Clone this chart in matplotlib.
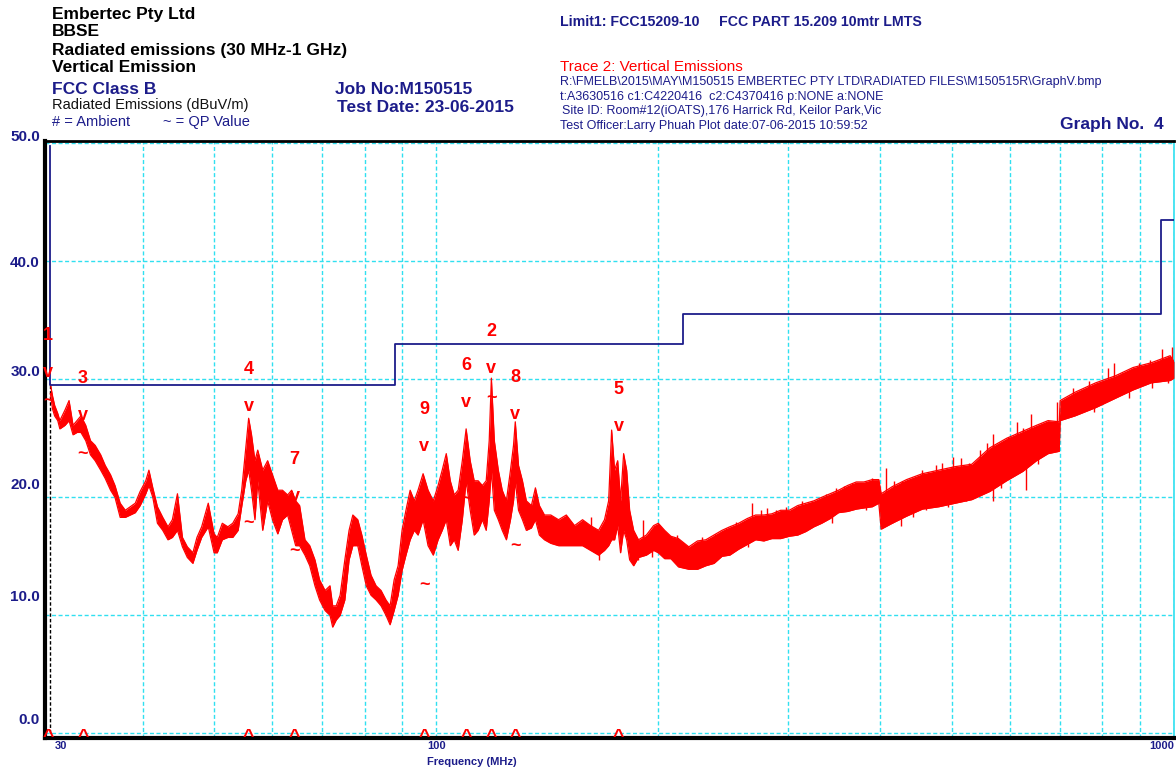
import matplotlib
matplotlib.use("Agg")
import matplotlib.pyplot as plt
import numpy as np

plt.rcParams['font.family'] = ['Liberation Sans', 'DejaVu Sans']

W, H = 1176, 771
NAVY = "#1c1c8a"
RED = "#ff0000"
CYAN = "#30e0f0"

# FCC 15.209 limit at 10 m (dBuV/m), step edges in MHz
limit_mhz = [30, 30, 88, 216, 960, 1000]
limit_db = [49.8, 29.5, 33.0, 35.5, 43.5, 43.5]

trace_mhz = [30.0, 30.2, 30.4, 30.7, 30.9, 31.4, 31.8, 32.2, 32.6, 33.0, 33.5, 34.0, 34.5, 35.1,
             35.6, 36.2, 36.7, 37.3, 37.9, 38.5, 39.1, 39.7, 40.4, 40.8, 41.3, 41.9, 42.6, 43.3,
             43.9, 44.6, 45.3, 46.0, 46.8, 47.4, 48.1, 49.1, 50.0, 50.5, 51.3, 52.2, 53.0, 53.9,
             54.5, 55.2, 55.7, 56.2, 56.8, 57.3, 58.2, 59.1, 60.0, 61.0, 61.9, 62.9, 63.7, 64.5,
             65.3, 66.4, 67.4, 68.5, 69.5, 70.7, 71.8, 72.4, 73.2, 74.1, 75.2, 76.2, 77.1, 78.3,
             79.3, 80.4, 81.6, 82.9, 84.2, 85.5, 86.6, 87.7, 88.8, 89.9, 91.0, 92.2, 93.4, 94.5,
             96.0, 97.5, 99.1, 100.6, 101.9, 103.2, 104.5, 105.8, 107.1, 108.5, 109.8, 111.2,
             112.6, 114.0, 115.5, 116.9, 118.0, 118.8, 119.9, 121.4, 122.9, 124.5, 126.1, 127.3,
             128.0, 129.3, 130.9, 132.5, 134.6, 136.3, 138.0, 140.2, 143.0, 146.5, 150.1, 154.0,
             157.9, 161.9, 166.0, 169.1, 171.3, 172.9, 174.5, 176.2, 177.8, 179.5, 181.2, 182.9,
             185.2, 188.0, 192.7, 197.1, 200, 204, 208, 213, 220, 226, 232, 238, 244, 250, 257,
             264, 271, 278, 285, 293, 301, 309, 317, 325, 333, 342, 351, 361, 371, 380, 390, 398,
             401, 415, 434, 456, 480, 505, 532, 563, 593, 624, 651, 675, 699, 701, 734, 783, 833,
             880, 931, 988, 1000]
trace_lo = [28.8, 27.5, 26.9, 26.5, 25.8, 26.1, 26.5, 25.3, 25.5, 25.5, 24.8, 23.6, 23.1, 22.3,
            21.6, 20.6, 20.0, 18.3, 18.3, 18.5, 18.7, 19.3, 20.3, 21.0, 20.0, 17.8, 17.2, 16.4,
            16.6, 17.2, 15.8, 14.9, 14.4, 15.5, 16.6, 17.5, 15.3, 15.3, 16.4, 16.6, 16.6, 17.2,
            19.2, 21.4, 22.3, 20.6, 18.1, 21.4, 17.2, 19.7, 18.1, 16.9, 18.1, 18.5, 17.2, 15.9,
            15.9, 15.1, 14.2, 12.5, 11.3, 10.4, 10.0, 9.0, 9.6, 10.0, 11.3, 14.7, 15.9, 15.9,
            14.2, 12.5, 11.7, 11.3, 10.8, 10.0, 9.2, 10.4, 11.7, 13.8, 15.1, 16.4, 17.2, 16.8,
            18.1, 15.9, 15.1, 16.4, 17.2, 18.1, 15.9, 16.4, 15.5, 18.1, 21.4, 18.9,
            16.8, 17.2, 18.1, 17.2, 19.7, 22.3, 18.9, 18.1, 17.2, 16.4, 18.1, 19.7,
            21.4, 18.9, 18.1, 17.2, 17.4, 18.1, 16.8, 16.4, 16.1, 15.9, 15.9, 15.9,
            15.9, 15.5, 15.1, 15.5, 15.9, 16.4, 16.4, 17.6, 15.3, 17.2, 16.4, 14.7,
            14.2, 14.9, 15.1, 15.5, 15.3, 14.8, 14.8, 14.1, 13.9, 13.9, 14.2, 14.4, 15.0, 15.1,
            15.6, 16.0, 16.4, 16.3, 16.5, 16.5, 16.7, 16.8, 17.1, 17.5, 17.8, 18.2, 18.7, 18.8,
            19.0, 19.1, 19.2, 19.5, 17.3, 17.8, 18.4, 19.0, 19.2, 19.5, 19.8, 20.5, 21.4, 22.2,
            23.1, 23.7, 23.9, 26.5, 26.9, 27.6, 28.4, 29.1, 29.7, 29.9, 30.1]
trace_hi = [29.6, 28.6, 27.8, 27.1, 26.5, 27.4, 28.2, 26.1, 26.5, 26.9, 26.1, 24.8, 24.4, 23.6,
            22.7, 21.9, 21.0, 19.5, 18.9, 19.2, 19.5, 20.5, 21.4, 22.3, 20.8, 19.2, 18.3, 17.5,
            18.1, 20.3, 16.6, 15.8, 15.3, 16.6, 17.5, 19.5, 16.9, 16.6, 17.8, 17.5, 17.8, 18.6,
            20.6, 24.2, 26.7, 25.3, 23.1, 24.0, 22.3, 23.1, 21.9, 20.6, 20.6, 20.2, 20.6, 19.7,
            19.3, 16.4, 15.9, 14.7, 13.0, 12.1, 12.5, 10.8, 10.8, 11.7, 14.7, 17.2, 18.5, 18.1,
            16.8, 15.1, 13.4, 12.5, 12.1, 11.3, 10.8, 13.0, 14.2, 17.2, 18.9, 20.6, 19.7, 20.6,
            22.0, 20.6, 19.7, 21.0, 22.3, 23.7, 21.4, 20.2, 20.6, 23.1, 25.8, 23.1,
            21.4, 21.4, 21.0, 21.4, 24.8, 30.1, 24.8, 22.3, 20.6, 19.7, 22.3, 24.4,
            26.4, 22.7, 21.4, 19.7, 19.3, 20.8, 19.3, 18.5, 18.5, 18.1, 18.5, 17.6,
            18.1, 17.6, 17.2, 18.1, 19.7, 25.7, 22.3, 23.1, 19.7, 23.7, 22.3, 18.9,
            17.2, 16.4, 16.8, 17.6, 17.8, 17.2, 16.7, 16.5, 15.8, 16.3, 16.4, 16.8, 17.2, 17.5,
            17.8, 18.2, 18.5, 18.5, 18.6, 18.9, 18.9, 19.3, 19.5, 19.7, 20.0, 20.3, 20.6, 21.0,
            21.3, 21.3, 21.5, 21.5, 20.3, 20.9, 21.5, 22.0, 22.3, 22.6, 22.8, 24.2, 25.0, 25.6,
            26.1, 26.5, 26.4, 28.2, 28.9, 29.7, 30.3, 31.0, 31.4, 32.0, 31.5]

# isolated noise spikes standing out of the trace band
spike_up_mhz = [150, 162, 190.5, 200, 212, 229, 239, 247, 255, 263, 268, 276, 281, 289, 298,
                307, 313, 323, 338, 348, 357, 366, 383, 390, 407, 418, 428, 447, 455, 466, 476,
                485, 501, 514, 528, 545, 558, 568, 580, 595, 612, 624, 641, 695, 730, 767, 814,
                828, 849, 897, 929, 963, 994]
spike_up_db = [18.1, 18.3, 18.1, 17.6, 16.8, 16.6, 16.9, 17.4, 17.9, 17.5, 19.5, 18.9, 19.1,
               18.9, 19.2, 19.2, 19.7, 19.7, 20.3, 20.8, 21.0, 21.2, 21.2, 21.6, 22.5, 21.4,
               21.4, 21.7, 22.3, 22.1, 22.7, 22.9, 23.4, 23.3, 22.9, 24.0, 24.6, 25.4, 24.0,
               25.1, 26.4, 25.9, 27.1, 28.1, 29.3, 29.9, 31.0, 31.4, 30.5, 31.4, 31.6, 32.6,
               32.7]
spike_dn_mhz = [166, 188, 196, 219, 232, 247, 265, 298, 344, 383, 401, 415, 427, 443, 461, 494,
                523, 568, 583, 630, 637, 654, 706, 749, 779, 869, 935, 982]
spike_dn_db = [14.7, 14.7, 14.9, 14.1, 14.4, 15.1, 15.8, 16.9, 17.8, 18.9, 17.5, 17.8, 17.6,
               18.3, 18.9, 19.2, 19.7, 19.7, 20.8, 20.6, 22.9, 22.8, 27.1, 27.4, 27.2, 28.4,
               29.3, 29.7]

# peak markers: label, frequency (MHz), peak level, QP level
marker_labels = ["1", "2", "3", "4", "5", "6", "7", "8", "9"]
marker_mhz = [29.8, 118.8, 33.2, 55.7, 176.7, 109.8, 64.3, 128.0, 96.3]
marker_peak_db = [30.6, 30.9, 26.9, 27.7, 26.0, 28.0, 20.1, 27.0, 24.3]
marker_qp_db = [28.1, 28.4, 23.6, 17.8, None, 19.8, 15.4, 15.8, 12.5]

grid_mhz = [40, 50, 60, 70, 80, 90, 100, 200, 300, 400, 500, 600, 700, 800, 900, 1000]
grid_db = [0, 10, 20, 30, 40, 50]
xtick_mhz = [30, 100, 1000]


def put(x, y, s, size, color=NAVY, weight="bold"):
    # header text placed in figure pixels (origin top-left)
    fig.text(x / W, 1 - y / H, s, fontsize=size, color=color, fontweight=weight,
             ha="left", va="center")


fig = plt.figure(figsize=(W / 100, H / 100), dpi=100)
ax = fig.add_axes([45 / W, 1 - 738 / H, (1174 - 45) / W, (738 - 141) / H])
ax.set_xscale("log")
ax.set_xlim(29.5, 1000)
ax.set_ylim(-0.4, 50.2)

for g in grid_mhz:
    ax.axvline(g, color=CYAN, lw=1.0, ls=(0, (2.9, 1.8)), zorder=1)
for g in grid_db:
    ax.axhline(g, color=CYAN, lw=1.0, ls=(0, (2.9, 1.8)), zorder=1)

# trace
ax.fill_between(trace_mhz, trace_lo, trace_hi, color=RED, lw=0, zorder=3)
ax.plot(trace_mhz, trace_hi, color=RED, lw=0.9, zorder=3)
ax.plot(trace_mhz, trace_lo, color=RED, lw=0.9, zorder=3)
mid = (np.array(trace_lo) + np.array(trace_hi)) / 2
ax.vlines(spike_up_mhz, np.interp(spike_up_mhz, trace_mhz, mid), spike_up_db,
          colors=RED, lw=1.0, zorder=3)
ax.vlines(spike_dn_mhz, spike_dn_db, np.interp(spike_dn_mhz, trace_mhz, mid),
          colors=RED, lw=1.0, zorder=3)
ax.vlines(trace_mhz[0], 0, trace_hi[0], colors="black", lw=1.0, linestyles=(0, (2.5, 1.5)), zorder=2)

# limit line
ax.plot(limit_mhz, limit_db, drawstyle="steps-post", color=NAVY, lw=1.3, zorder=4)

# markers
for lab, f, pk, qp in zip(marker_labels, marker_mhz, marker_peak_db, marker_qp_db):
    ax.annotate("v", (f, pk), ha="center", va="center", color=RED, fontsize=13,
                fontweight="bold", zorder=5)
    ax.annotate(lab, (f, pk), xytext=(0, 37), textcoords="offset pixels", ha="center",
                va="center", color=RED, fontsize=13, fontweight="bold", zorder=5)
    if qp is not None:
        ax.annotate("~", (f, qp), ha="center", va="center", color=RED, fontsize=13,
                    fontweight="bold", zorder=5)
    ax.annotate("^", (f, 0), xytext=(0, -9), textcoords="offset pixels", ha="center",
                va="baseline", color=RED, fontsize=14, fontweight="bold", zorder=5,
                annotation_clip=False)

# axes frame
for side in ["left", "bottom"]:
    ax.spines[side].set_linewidth(3)
    ax.spines[side].set_color("black")
ax.spines["top"].set_linewidth(2)
ax.spines["right"].set_color(CYAN)
ax.spines["right"].set_linewidth(1.2)
ax.set_xticks([])
ax.set_yticks([])
ax.minorticks_off()

# y labels (the source software draws them slightly off the grid)
ylabel_shift_px = [13, 18, 12, 7, -2, 6]
for g, dy in zip(grid_db, ylabel_shift_px):
    ax.annotate(f"{g:.1f}", (0, g), xycoords=("axes fraction", "data"), xytext=(-5, dy),
                textcoords="offset pixels", ha="right", va="center", color=NAVY,
                fontsize=11, fontweight="bold", annotation_clip=False)

# x labels
xtick_ha = ["left", "center", "right"]
xtick_dx = [4, 0, 0]
for f, ha, dx in zip(xtick_mhz, xtick_ha, xtick_dx):
    ax.annotate(str(f), (f, 0), xycoords=("data", "axes fraction"), xytext=(dx, -3),
                textcoords="offset pixels", ha=ha, va="top", color=NAVY, fontsize=8,
                fontweight="bold", annotation_clip=False)
fig.text(472 / W, 1 - 762 / H, "Frequency (MHz)", fontsize=8, color=NAVY,
         fontweight="bold", ha="center", va="center")

# header block
put(52, 15, "Embertec Pty Ltd", 12.5, color="black")
put(52, 32, "BBSE", 12.5, color="black")
put(52, 50, "Radiated emissions (30 MHz-1 GHz)", 12.5, color="black")
put(52, 68, "Vertical Emission", 12.5, color="black")
put(52, 90, "FCC Class B", 12.5)
put(52, 105, "Radiated Emissions (dBuV/m)", 10.5, color="#111111", weight="normal")
put(52, 122, "# = Ambient", 10.5, weight="normal")
put(163, 122, "~ = QP Value", 10.5, weight="normal")
put(335, 90, "Job No:M150515", 12.5)
put(337, 107, "Test Date: 23-06-2015", 12.5)
put(560, 22, "Limit1: FCC15209-10", 10.2)
put(719, 22, "FCC PART 15.209 10mtr LMTS", 10.2)
put(560, 67, "Trace 2: Vertical Emissions", 11, color=RED, weight="normal")
put(560, 82, r"R:\FMELB\2015\MAY\M150515 EMBERTEC PTY LTD\RADIATED FILES\M150515R\GraphV.bmp", 9,
    weight="normal")
put(560, 97, "t:A3630516 c1:C4220416  c2:C4370416 p:NONE a:NONE", 9, weight="normal")
put(562, 111, "Site ID: Room#12(iOATS),176 Harrick Rd, Keilor Park,Vic", 9, weight="normal")
put(560, 126, "Test Officer:Larry Phuah Plot date:07-06-2015 10:59:52", 9, weight="normal")
put(1060, 124, "Graph No.  4", 12.5)

fig.savefig("out.png", dpi=100)
